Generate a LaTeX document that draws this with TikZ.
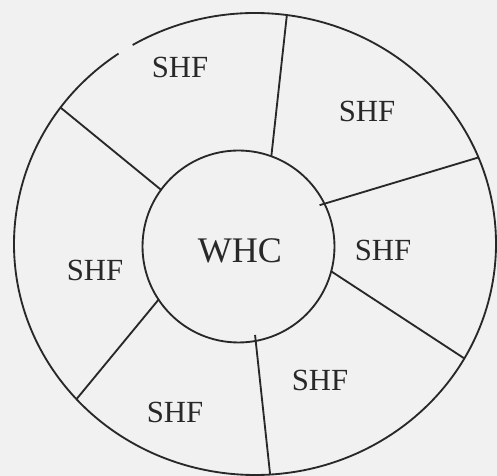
\documentclass[tikz,border=0pt]{standalone}
\usepackage{fontspec}
\setmainfont{Liberation Serif}
\usetikzlibrary{calc}
\definecolor{cInk}{RGB}{40,40,40}
\definecolor{cPaper}{RGB}{241,241,241}
\tikzset{
	ring/.style   ={draw=cInk, line width=1.05pt},
	hub/.style    ={circle, draw=cInk, line width=1.05pt, minimum size=3.84cm, inner sep=0pt},
	hubtxt/.style ={font=\fontsize{20.5}{24}\selectfont, text=cInk, inner sep=0pt},
	shf/.style    ={font=\fontsize{17.5}{21}\selectfont, text=cInk, inner sep=0pt},
	spoke/.style  ={draw=cInk, line width=1.05pt},
}
\begin{document}
\begin{tikzpicture}[x=0.02cm, y=0.02cm]
	\fill[cPaper] (0,0) rectangle (497,476);
	\useasboundingbox (0,0) rectangle (497,476);
	\coordinate (oc) at (255,232);
	\coordinate (ic) at (238.5,229.5);
	% outer ring, with the small break at upper left
	\draw[ring] ($(oc)+(124.5:241 and 231)$) arc[start angle=124.5, end angle=480.5, x radius=241, y radius=231];
	\node[hub] (whc) at (ic) {};
	\node[hubtxt] (whclbl) at (240,225) {WHC};
	% spokes: inner angle/radius, outer angle
	\foreach \n/\a/\r/\t in {1/70/96/82.4, 2/27/91/22, 3/-15/96/-29.7, 4/-79.4/90/-86.4, 5/213.6/96/-137.8, 6/143.8/96/143.8}{
		\coordinate (in\n) at ($(ic)+(\a:\r)$);
		\coordinate (out\n) at ($(oc)+(\t:241 and 231)$);
		\draw[spoke] (in\n) -- (out\n);
	}
	% sector labels
	\node[shf] (shfa) at (180,409) {SHF};
	\node[shf] (shfb) at (367,365) {SHF};
	\node[shf] (shfc) at (383,226) {SHF};
	\node[shf] (shfd) at (320,96) {SHF};
	\node[shf] (shfe) at (175,64) {SHF};
	\node[shf] (shff) at (95,206) {SHF};
\end{tikzpicture}
\end{document}
